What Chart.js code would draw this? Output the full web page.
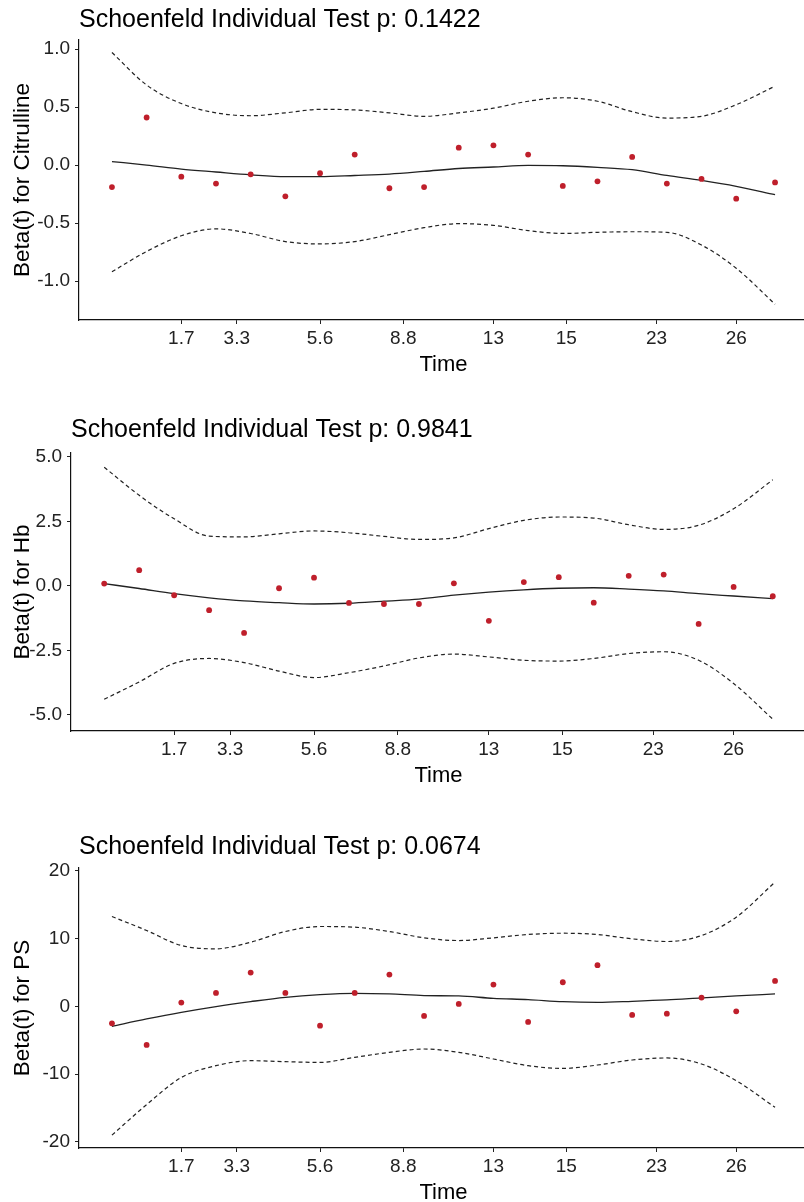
<!DOCTYPE html>
<html>
<head>
<meta charset="utf-8">
<script src="https://cdn.jsdelivr.net/npm/chart.js@4/dist/chart.umd.min.js"></script>
<style>
  html, body { margin: 0; padding: 0; width: 804px; height: 1202px; overflow: hidden; background: #fff; }
  .panel { position: absolute; left: 0; width: 812px; height: 420px; }
</style>
</head>
<body>
<div class="panel" style="top:0px"><canvas id="c1" width="812" height="420"></canvas></div>
<div class="panel" style="top:400px"><canvas id="c2" width="812" height="420"></canvas></div>
<div class="panel" style="top:800px"><canvas id="c3" width="812" height="420"></canvas></div>
<script>
// x positions of the residuals (rank of event time) and the time labels
const xPos = [1, 2, 3, 4, 5, 6, 7, 8, 9, 10, 11, 12, 13, 14, 15, 16, 17, 18, 19, 20.12];
const timeTickPos = [3, 4.6, 7, 9.4, 12, 14.1, 16.7, 19];
const timeTickLabels = ['1.7', '3.3', '5.6', '8.8', '13', '15', '23', '26'];

// Citrulline
const citResid = [-0.19, 0.41, -0.10, -0.16, -0.08, -0.27, -0.07, 0.09, -0.20, -0.19, 0.15, 0.17, 0.09, -0.18, -0.14, 0.07, -0.16, -0.12, -0.29, -0.15];
const citFit   = [0.03, 0.00, -0.035, -0.06, -0.084, -0.10, -0.10, -0.09, -0.078, -0.055, -0.03, -0.017, -0.003, -0.006, -0.02, -0.04, -0.09, -0.133, -0.184, -0.256];
const citUpper = [0.97, 0.69, 0.53, 0.45, 0.425, 0.45, 0.48, 0.475, 0.45, 0.42, 0.45, 0.49, 0.55, 0.58, 0.55, 0.46, 0.405, 0.42, 0.52, 0.68];
const citLower = [-0.92, -0.745, -0.61, -0.55, -0.59, -0.66, -0.68, -0.66, -0.60, -0.54, -0.505, -0.52, -0.565, -0.59, -0.58, -0.575, -0.58, -0.69, -0.89, -1.20];
const citYTicks = [-1.0, -0.5, 0.0, 0.5, 1.0];

// Hb
const hbResid = [0.09, 0.61, -0.36, -0.94, -1.82, -0.09, 0.32, -0.66, -0.70, -0.70, 0.10, -1.35, 0.15, 0.34, -0.65, 0.39, 0.44, -1.47, -0.04, -0.40];
const hbFit   = [0.09, -0.10, -0.30, -0.46, -0.58, -0.65, -0.70, -0.67, -0.59, -0.51, -0.36, -0.24, -0.15, -0.09, -0.07, -0.12, -0.19, -0.30, -0.39, -0.49];
const hbUpper = [4.6, 3.51, 2.60, 1.93, 1.90, 2.02, 2.13, 2.06, 1.92, 1.80, 1.86, 2.22, 2.54, 2.67, 2.63, 2.37, 2.19, 2.35, 2.99, 4.11];
const hbLower = [-4.39, -3.72, -3.0, -2.81, -2.97, -3.30, -3.55, -3.36, -3.10, -2.79, -2.64, -2.75, -2.88, -2.91, -2.81, -2.62, -2.55, -2.88, -3.78, -5.16];
const hbYTicks = [-5.0, -2.5, 0.0, 2.5, 5.0];

// PS
const psResid = [-2.51, -5.70, 0.55, 1.98, 4.98, 1.98, -2.85, 1.98, 4.68, -1.42, 0.35, 3.2, -2.31, 3.55, 6.06, -1.27, -1.08, 1.29, -0.74, 3.75];
const psFit   = [-2.95, -1.87, -0.89, -0.04, 0.69, 1.33, 1.73, 1.92, 1.83, 1.58, 1.53, 1.18, 0.99, 0.69, 0.59, 0.74, 0.94, 1.24, 1.53, 1.83];
const psUpper = [13.25, 11.18, 8.97, 8.48, 9.46, 11.03, 11.77, 11.67, 11.03, 10.1, 9.7, 10.1, 10.59, 10.78, 10.59, 9.95, 9.56, 10.44, 13.15, 18.32];
const psLower = [-19.0, -14.5, -10.5, -8.76, -8.02, -8.17, -8.27, -7.53, -6.79, -6.3, -6.79, -7.77, -8.76, -9.16, -8.66, -7.92, -7.62, -8.51, -10.97, -14.9];
const psYTicks = [-20, -10, 0, 10, 20];

const FONT = '"Liberation Sans", Arial, sans-serif';
const CANVAS_H = 420;

// title left-aligned with the plot panel, like ggplot
const panelTitle = {
  id: 'panelTitle',
  afterDraw(chart, args, opts) {
    const ctx = chart.ctx;
    ctx.save();
    ctx.font = '25px ' + FONT;
    ctx.fillStyle = '#000';
    ctx.textBaseline = 'middle';
    ctx.textAlign = 'left';
    ctx.fillText(opts.text, chart.chartArea.left, opts.y);
    ctx.restore();
  }
};

function pts(ys) {
  return ys.map((y, i) => ({ x: xPos[i], y: y }));
}

function makePanel(id, p) {
  const band = { showLine: true, pointRadius: 0, borderColor: '#222', borderWidth: 1.2,
                 borderDash: [4, 3], cubicInterpolationMode: 'monotone', fill: false };
  new Chart(document.getElementById(id), {
    type: 'scatter',
    data: {
      datasets: [
        { data: pts(p.resid), pointRadius: 2.9, pointBackgroundColor: '#bf1f2b',
          pointBorderWidth: 0, showLine: false },
        { data: pts(p.fit), showLine: true, pointRadius: 0, borderColor: '#222',
          borderWidth: 1.3, cubicInterpolationMode: 'monotone', fill: false },
        Object.assign({ data: pts(p.upper) }, band),
        Object.assign({ data: pts(p.lower) }, band)
      ]
    },
    options: {
      responsive: false,
      animation: false,
      events: [],
      layout: { padding: { top: p.top, right: 812 - p.right, left: 0, bottom: 0 } },
      plugins: {
        legend: { display: false },
        tooltip: { enabled: false },
        panelTitle: { text: p.title, y: p.titleY }
      },
      scales: {
        x: {
          type: 'linear', min: 0.05, max: 21.07,
          afterFit: s => { s.height = CANVAS_H - p.bottom; },
          afterBuildTicks: s => { s.ticks = timeTickPos.map(v => ({ value: v })); },
          ticks: {
            autoSkip: false, maxRotation: 0, padding: 5, color: '#222',
            font: { family: FONT, size: 19, lineHeight: 1 },
            callback: (v) => timeTickLabels[timeTickPos.indexOf(v)]
          },
          grid: { drawOnChartArea: false, drawTicks: true, tickLength: 4, color: '#222' },
          border: { display: true, color: '#111', width: 1.2 },
          title: { display: true, text: 'Time', color: '#000',
                   font: { family: FONT, size: 22, lineHeight: 1.2 },
                   padding: { top: 0, bottom: CANVAS_H - p.bottom - 45 - 13.2 } }
        },
        y: {
          type: 'linear', min: p.ymin, max: p.ymax,
          afterFit: s => { s.width = p.left; },
          afterBuildTicks: s => { s.ticks = p.yTicks.map(v => ({ value: v })); },
          ticks: {
            padding: 5, color: '#222',
            font: { family: FONT, size: 19, lineHeight: 1 },
            callback: (v) => p.decimals ? v.toFixed(1) : String(v)
          },
          grid: { drawOnChartArea: false, drawTicks: true, tickLength: 4, color: '#222' },
          border: { display: true, color: '#111', width: 1.2 },
          title: { display: true, text: p.yTitle, color: '#000',
                   font: { family: FONT, size: 22.5, lineHeight: 1.2 },
                   padding: { top: 9, bottom: 0 } }
        }
      }
    },
    plugins: [panelTitle]
  });
}

makePanel('c1', {
  title: 'Schoenfeld Individual Test p: 0.1422', titleY: 20,
  yTitle: 'Beta(t) for Citrulline',
  resid: citResid, fit: citFit, upper: citUpper, lower: citLower,
  yTicks: citYTicks, decimals: true, ymin: -1.336, ymax: 1.078,
  top: 40, bottom: 320, left: 79, right: 811
});
makePanel('c2', {
  title: 'Schoenfeld Individual Test p: 0.9841', titleY: 30,
  yTitle: 'Beta(t) for Hb',
  resid: hbResid, fit: hbFit, upper: hbUpper, lower: hbLower,
  yTicks: hbYTicks, decimals: true, ymin: -5.62, ymax: 5.15,
  top: 53, bottom: 331, left: 71, right: 806
});
makePanel('c3', {
  title: 'Schoenfeld Individual Test p: 0.0674', titleY: 47,
  yTitle: 'Beta(t) for PS',
  resid: psResid, fit: psFit, upper: psUpper, lower: psLower,
  yTicks: psYTicks, decimals: false, ymin: -20.9, ymax: 20.4,
  top: 68, bottom: 348, left: 79, right: 811
});
</script>
</body>
</html>
